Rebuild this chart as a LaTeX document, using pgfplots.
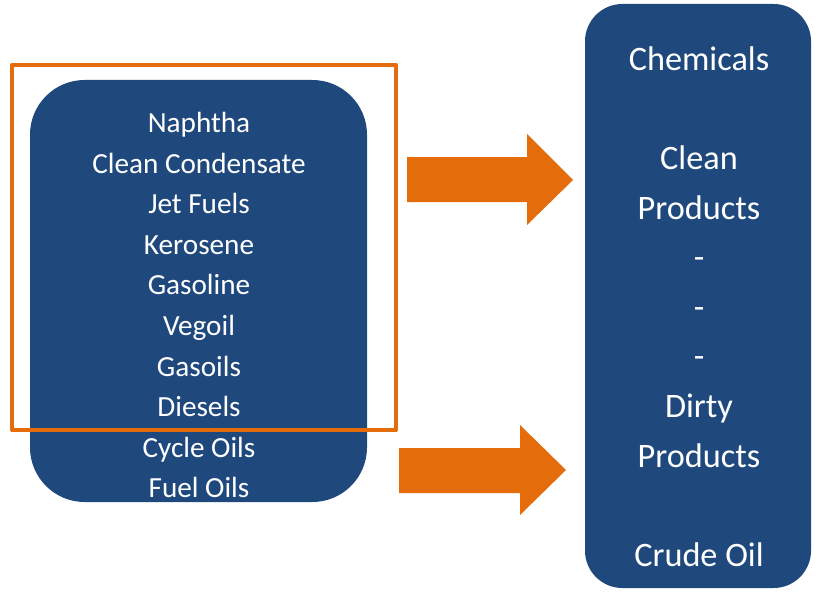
\documentclass[border=0pt]{standalone}
\usepackage{pgfplots}
\pgfplotsset{compat=1.18}
\usepackage{fontspec}
\setmainfont{Carlito}
\definecolor{boxblue}{RGB}{31,73,125}
\definecolor{arrorange}{RGB}{228,108,10}
\begin{document}
\begin{tikzpicture}
\begin{axis}[
  scale only axis, width=612.75pt, height=444pt,
  xmin=0, xmax=817, ymin=0, ymax=592, y dir=reverse,
  hide axis, clip=false,
]
% left rounded box
\addplot[fill=boxblue, draw=none, rounded corners=41pt] coordinates {(198,80) (367,80) (367,502) (30,502) (30,80)} -- cycle;
% right rounded box
\addplot[fill=boxblue, draw=none, rounded corners=28pt] coordinates {(698,4) (811,4) (811,588) (585,588) (585,4)} -- cycle;
% arrows
\addplot[fill=arrorange, draw=none] coordinates {(407,157) (527,157) (527,134) (573,180) (527,225) (527,202) (407,202)} -- cycle;
\addplot[fill=arrorange, draw=none] coordinates {(399,448) (520,448) (520,425) (566,470) (520,515) (520,493) (399,493)} -- cycle;
% orange frame
\addplot[draw=arrorange, line width=3pt, line join=round] coordinates {(12,65) (396,65) (396,430) (12,430)} -- cycle;

\begin{scope}[every node/.style={text=white, anchor=base, inner sep=0pt, font=\fontsize{21.9}{26}\selectfont}]
\node at (axis cs:199,132.5) {Naphtha};
\node at (axis cs:199,173) {Clean Condensate};
\node at (axis cs:199,213.5) {Jet Fuels};
\node at (axis cs:199,254) {Kerosene};
\node at (axis cs:199,294.5) {Gasoline};
\node at (axis cs:199,335.5) {Vegoil};
\node at (axis cs:199,376) {Gasoils};
\node at (axis cs:199,416.5) {Diesels};
\node at (axis cs:199,457) {Cycle Oils};
\node at (axis cs:199,497.5) {Fuel Oils};
\end{scope}
\begin{scope}[every node/.style={text=white, anchor=base, inner sep=0pt, font=\fontsize{25.7}{30}\selectfont}]
\node at (axis cs:699,70) {Chemicals};
\node at (axis cs:699,169) {Clean};
\node at (axis cs:699,219) {Products};
\node at (axis cs:699,268.5) {-};
\node at (axis cs:699,318) {-};
\node at (axis cs:699,367.5) {-};
\node at (axis cs:699,417.5) {Dirty};
\node at (axis cs:699,467) {Products};
\node at (axis cs:699,566) {Crude Oil};
\end{scope}
\end{axis}
\pgfresetboundingbox
\path (current axis.south west) rectangle (current axis.north east);
\end{tikzpicture}
\end{document}
